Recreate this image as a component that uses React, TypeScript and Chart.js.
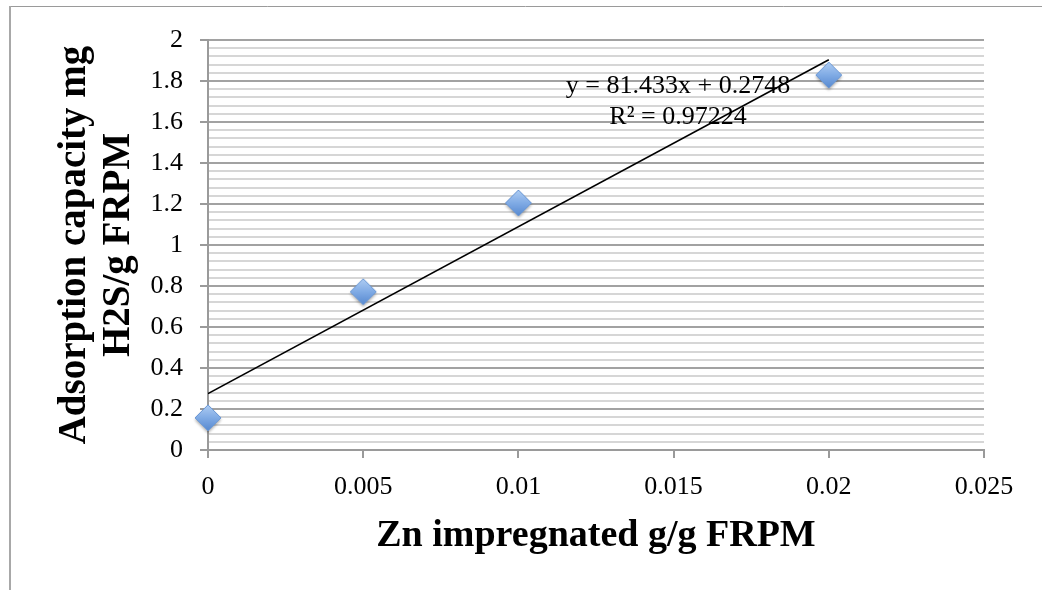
import React, { useEffect, useRef } from "react";
import { Chart, registerables } from "chart.js";

Chart.register(...registerables);

// ---- data ----
const znImpregnated = [0, 0.005, 0.01, 0.02];
const adsorptionCapacity = [0.152, 0.767, 1.2, 1.824];
const trendX = [0, 0.02];
const trendY = [0.2748, 1.9034];
const equationLine1 = "y = 81.433x + 0.2748";
const equationLine2 = "R² = 0.97224";
const xTitle = "Zn impregnated g/g FRPM";
const yTitleLines = ["Adsorption capacity mg", "H2S/g FRPM"];
const xTickLabels = ["0", "0.005", "0.01", "0.015", "0.02", "0.025"];
const yTickLabels = ["0", "0.2", "0.4", "0.6", "0.8", "1", "1.2", "1.4", "1.6", "1.8", "2"];

const SERIF = "'Liberation Serif', 'Times New Roman', serif";

function makeDiamond(): HTMLCanvasElement {
  const c = document.createElement("canvas");
  c.width = 36;
  c.height = 36;
  const ctx = c.getContext("2d")!;
  const cx = 18, cy = 17, r = 13;
  ctx.save();
  ctx.shadowColor = "rgba(0,0,0,0.35)";
  ctx.shadowBlur = 3;
  ctx.shadowOffsetY = 2;
  ctx.beginPath();
  ctx.moveTo(cx, cy - r);
  ctx.lineTo(cx + r, cy);
  ctx.lineTo(cx, cy + r);
  ctx.lineTo(cx - r, cy);
  ctx.closePath();
  const g = ctx.createLinearGradient(0, cy - r, 0, cy + r);
  g.addColorStop(0, "#afcdf3");
  g.addColorStop(0.5, "#80abe5");
  g.addColorStop(1, "#5789d0");
  ctx.fillStyle = g;
  ctx.fill();
  ctx.restore();
  ctx.beginPath();
  ctx.moveTo(cx, cy - r);
  ctx.lineTo(cx + r, cy);
  ctx.lineTo(cx, cy + r);
  ctx.lineTo(cx - r, cy);
  ctx.closePath();
  ctx.strokeStyle = "#6a97d4";
  ctx.lineWidth = 1;
  ctx.stroke();
  return c;
}

const isMajor = (v: number) => Math.abs(v / 0.2 - Math.round(v / 0.2)) < 1e-6;

export default function App() {
  const ref = useRef<HTMLCanvasElement>(null);

  useEffect(() => {
    if (!ref.current) return;
    const diamond = makeDiamond();

    const decor = {
      id: "decor",
      beforeDraw(chart: any) {
        const ctx = chart.ctx;
        ctx.save();
        ctx.fillStyle = "#ffffff";
        ctx.fillRect(0, 0, chart.width, chart.height);
        ctx.strokeStyle = "#9a9a9a";
        ctx.lineWidth = 1;
        ctx.beginPath();
        ctx.moveTo(9, 6.5);
        ctx.lineTo(chart.width, 6.5);
        ctx.stroke();
        ctx.strokeStyle = "#a8a8a8";
        ctx.lineWidth = 2;
        ctx.beginPath();
        ctx.moveTo(10, 6);
        ctx.lineTo(10, chart.height);
        ctx.stroke();
        ctx.restore();
      },
      afterDraw(chart: any) {
        const ctx = chart.ctx;
        const area = chart.chartArea;
        ctx.save();
        ctx.fillStyle = "#000000";
        // x title
        ctx.font = `bold 38px ${SERIF}`;
        ctx.textAlign = "center";
        ctx.textBaseline = "alphabetic";
        ctx.fillText(xTitle, (area.left + area.right) / 2, 546);
        // y title
        const cy = (area.top + area.bottom) / 2;
        ctx.font = `bold 39px ${SERIF}`;
        ctx.save();
        ctx.translate(85, cy);
        ctx.rotate(-Math.PI / 2);
        ctx.fillText(yTitleLines[0], 0, 0);
        ctx.restore();
        ctx.save();
        ctx.translate(129, cy);
        ctx.rotate(-Math.PI / 2);
        ctx.fillText(yTitleLines[1], 0, 0);
        ctx.restore();
        // equation
        ctx.font = `26px ${SERIF}`;
        ctx.fillText(equationLine1, 678, 93);
        ctx.fillText(equationLine2, 678, 124);
        ctx.restore();
      },
    };

    const chart = new Chart(ref.current, {
      type: "scatter",
      data: {
        datasets: [
          {
            label: "trend",
            type: "line",
            data: trendX.map((x, i) => ({ x, y: trendY[i] })),
            borderColor: "#000000",
            borderWidth: 1.6,
            pointRadius: 0,
            showLine: true,
            fill: false,
            order: 0,
          } as any,
          {
            label: "capacity",
            data: znImpregnated.map((x, i) => ({ x, y: adsorptionCapacity[i] })),
            pointStyle: diamond as any,
            pointRadius: 12,
            clip: false,
            order: 1,
          } as any,
        ],
      },
      options: {
        responsive: false,
        animation: false,
        layout: { padding: { left: 0, top: 40, right: 58, bottom: 0 } },
        plugins: { legend: { display: false }, tooltip: { enabled: false } },
        scales: {
          x: {
            type: "linear",
            min: 0,
            max: 0.025,
            afterFit: (s: any) => {
              s.height = 140;
            },
            ticks: {
              stepSize: 0.005,
              autoSkip: false,
              maxRotation: 0,
              padding: 14,
              color: "#000000",
              font: { family: SERIF, size: 26 },
              callback: (v: any, i: number) => xTickLabels[i] ?? "",
            },
            grid: {
              drawOnChartArea: false,
              drawTicks: true,
              tickLength: 8,
              tickColor: "#9a9a9a",
              lineWidth: 2,
            },
            border: { color: "#9a9a9a", width: 2 },
          },
          y: {
            type: "linear",
            min: 0,
            max: 2,
            afterFit: (s: any) => {
              s.width = 208;
            },
            ticks: {
              stepSize: 0.04,
              autoSkip: false,
              padding: 17,
              color: "#000000",
              font: { family: SERIF, size: 26 },
              callback: (v: any) => {
                const n = Number(v);
                if (!isMajor(n)) return "";
                return yTickLabels[Math.round(n / 0.2)] ?? "";
              },
            },
            grid: {
              tickLength: 8,
              lineWidth: 2,
              color: (c: any) => (isMajor(c.tick.value) ? "#a2a2a2" : "#d6d6d6"),
              tickColor: (c: any) => (isMajor(c.tick.value) ? "#9a9a9a" : "rgba(0,0,0,0)"),
            },
            border: { color: "#9a9a9a", width: 2 },
          },
        },
      },
      plugins: [decor],
    });
    return () => chart.destroy();
  }, []);

  return (
    <div style={{ position: "absolute", left: 0, top: 0, width: 1042, height: 590 }}>
      <canvas ref={ref} width={1042} height={590} style={{ display: "block" }} />
    </div>
  );
}
